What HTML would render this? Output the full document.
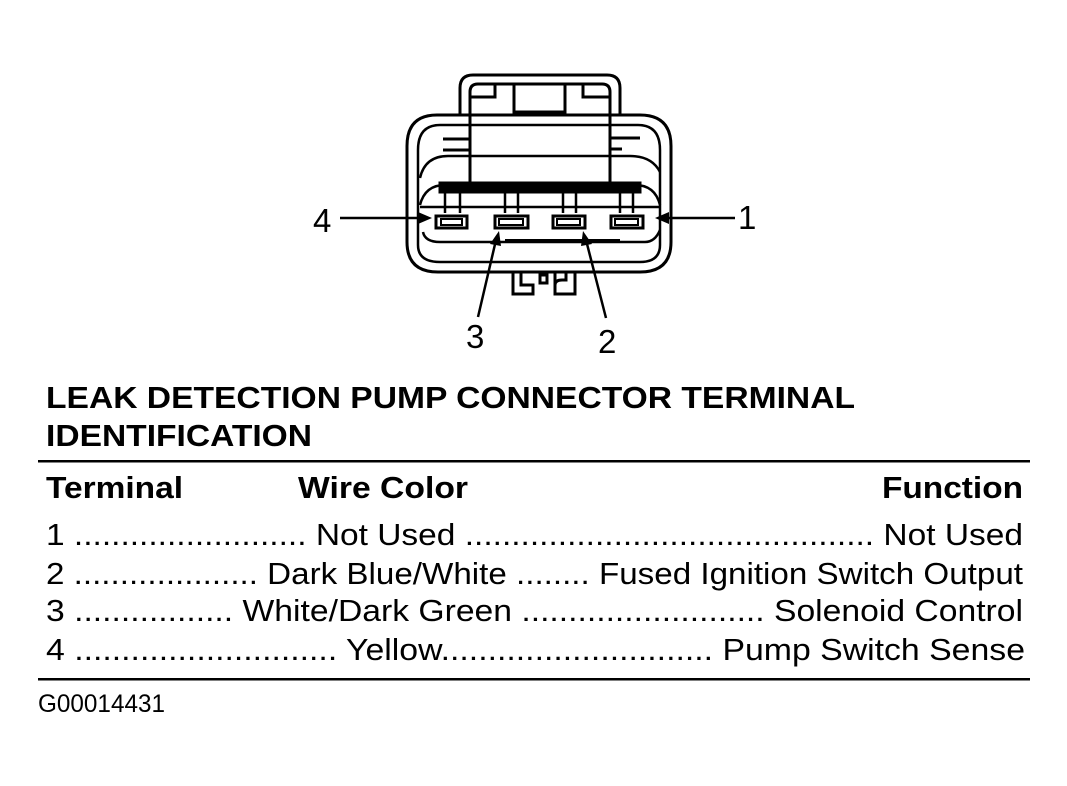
<!DOCTYPE html>
<html><head><meta charset="utf-8"><style>
html,body{margin:0;padding:0;background:#fff;}
svg{display:block;}
text{font-family:"Liberation Sans",Arial,sans-serif;fill:#000;}
</style></head><body>
<svg width="1067" height="786" viewBox="0 0 1067 786" xmlns="http://www.w3.org/2000/svg">
<g fill="none" stroke="#000" stroke-width="3">
  <path d="M460 116 V88 Q460 75 473 75 H607 Q620 75 620 88 V116"/>
  <path d="M470 183 V92 Q470 84 478 84 H602 Q610 84 610 92 V183"/>
  <rect x="514" y="84" width="51" height="28"/>
  <path d="M470 97 H495 V84"/>
  <path d="M610 97 H583 V84"/>
  <path d="M437 115 H640 Q671 115 671 146 V242 Q671 272 640 272 H438 Q407 272 407 242 V146 Q407 115 437 115 Z"/>
  <path d="M440 125 H638 Q660 125 660 150 V245 Q660 262 640 262 H440 Q418 262 418 245 V150 Q418 125 440 125 Z" stroke-width="2.5"/>
  <path d="M443 139 H470 M443 150 H470 M610 138 H640 M610 149 H622"/>
  <path d="M420 178 Q425 156 448 156 H630 Q652 156 660 172" stroke-width="2.5"/>
  <path d="M420 205 Q425 185 445 185 M660 205 Q655 185 635 185" stroke-width="2.5"/>
  <path d="M420 207 H660" stroke-width="2.5"/>
  <path d="M423 232 Q425 242 440 242 H645 Q655 242 660 230" stroke-width="2.5"/>
  <path d="M505 240 H620" stroke-width="2"/>
  <rect x="440" y="183" width="200" height="9" fill="#000"/>
  <path d="M445 192 V213 M460 192 V213 M505 192 V213 M518 192 V213 M563 192 V213 M576 192 V213 M620 192 V213 M633 192 V213" stroke-width="2.5"/>
  <rect x="436" y="216" width="31" height="12"/><rect x="441" y="219" width="21" height="6" stroke-width="2"/>
  <rect x="495" y="216" width="33" height="12"/><rect x="499" y="219" width="24" height="6" stroke-width="2"/>
  <rect x="553" y="216" width="32" height="12"/><rect x="557" y="219" width="23" height="6" stroke-width="2"/>
  <rect x="611" y="216" width="32" height="12"/><rect x="615" y="219" width="23" height="6" stroke-width="2"/>
  <path d="M513 272 V294 H533 V285 H521 V272 M540 275 H547 V283 H540 Z M555 272 V294 H575 V272 M555 285 Q555 280 562 280 H566 V272"/>
  <path d="M340 218 H422 M665 218 H735 M478 317 L496 240 M606 318 L586 240" stroke-width="2.5"/>
</g>
<g fill="#000">
  <polygon points="432,218 418,212 418,224"/>
  <polygon points="655,218 669,212 669,224"/>
  <polygon points="499,231 490,244 501,246"/>
  <polygon points="583,231 581,246 592,244"/>
</g>
<text x="313" y="232" font-size="33">4</text>
<text x="738" y="229" font-size="33">1</text>
<text x="466" y="348" font-size="33">3</text>
<text x="598" y="353" font-size="33">2</text>

<text x="46" y="408" font-size="31" font-weight="bold" textLength="809" lengthAdjust="spacingAndGlyphs">LEAK DETECTION PUMP CONNECTOR TERMINAL</text>
<text x="46" y="446" font-size="31" font-weight="bold" textLength="266" lengthAdjust="spacingAndGlyphs">IDENTIFICATION</text>
<rect x="38" y="460" width="992" height="2.5" fill="#000"/>
<text x="46" y="498" font-size="31" font-weight="bold" textLength="137" lengthAdjust="spacingAndGlyphs">Terminal</text>
<text x="298" y="498" font-size="31" font-weight="bold" textLength="170" lengthAdjust="spacingAndGlyphs">Wire Color</text>
<text x="882" y="498" font-size="31" font-weight="bold" textLength="141" lengthAdjust="spacingAndGlyphs">Function</text>

<text x="46" y="545" font-size="31" textLength="977" lengthAdjust="spacingAndGlyphs">1 ......................... Not Used ............................................ Not Used</text>
<text x="46" y="584" font-size="31" textLength="977" lengthAdjust="spacingAndGlyphs">2 .................... Dark Blue/White ........ Fused Ignition Switch Output</text>
<text x="46" y="621" font-size="31" textLength="977" lengthAdjust="spacingAndGlyphs">3 ................. White/Dark Green .......................... Solenoid Control</text>
<text x="46" y="660" font-size="31" textLength="979" lengthAdjust="spacingAndGlyphs">4 ............................ Yellow............................. Pump Switch Sense</text>
<rect x="38" y="678" width="992" height="2.5" fill="#000"/>
<text x="38" y="712" font-size="25" textLength="127" lengthAdjust="spacingAndGlyphs">G00014431</text>
</svg>
</body></html>
